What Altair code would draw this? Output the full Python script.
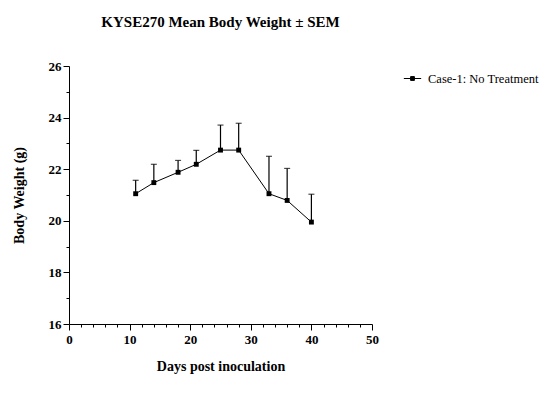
import altair as alt
import pandas as pd

days = [11, 14, 18, 21, 25, 28, 33, 36, 40]
mean_weight = [21.05, 21.48, 21.88, 22.19, 22.74, 22.74, 21.05, 20.79, 19.95]
sem = [0.52, 0.71, 0.46, 0.54, 0.97, 1.04, 1.45, 1.24, 1.08]
group = "Case-1: No Treatment"

df = pd.DataFrame({
    "day": days,
    "mean": mean_weight,
    "upper": [m + s for m, s in zip(mean_weight, sem)],
    "group": [group] * len(days),
})

FONT = "Liberation Serif"

x_scale = alt.Scale(domain=[0, 50], nice=False, zero=False)
y_scale = alt.Scale(domain=[16, 26], nice=False, zero=False)

x_axis = alt.Axis(
    values=list(range(0, 51, 2)),
    labelExpr="datum.value % 10 === 0 ? datum.label : ''",
    tickSize={"condition": {"test": "datum.value % 10 === 0", "value": 6}, "value": 3},
    grid=False, labelOverlap=False, labelFont=FONT, labelFontSize=13, labelFontWeight="bold",
    labelColor="black", title="Days post inoculation", titleFont=FONT, titleFontSize=14,
    titleFontWeight="bold", titleColor="black", titlePadding=13, domainColor="black",
    tickColor="black", labelPadding=3, labelFlush=False,
)
y_axis = alt.Axis(
    values=list(range(16, 27)),
    labelExpr="datum.value % 2 === 0 ? datum.label : ''",
    tickSize={"condition": {"test": "datum.value % 2 === 0", "value": 6}, "value": 3},
    grid=False, labelOverlap=False, labelFont=FONT, labelFontSize=13, labelFontWeight="bold",
    labelColor="black", title="Body Weight (g)", titleFont=FONT, titleFontSize=14,
    titleFontWeight="bold", titleColor="black", titlePadding=22, domainColor="black",
    tickColor="black", labelPadding=2, labelFlush=False,
)

X = alt.X("day:Q", scale=x_scale, axis=x_axis)
Y = alt.Y("mean:Q", scale=y_scale, axis=y_axis)
Yu = alt.Y("upper:Q", scale=y_scale, axis=y_axis)

base = alt.Chart(df)

line = base.mark_line(color="black", strokeWidth=1).encode(x=X, y=Y)

points = base.mark_point(filled=True, shape="square", size=24, opacity=1).encode(
    x=X, y=Y,
    color=alt.Color(
        "group:N",
        scale=alt.Scale(range=["black"]),
        legend=alt.Legend(
            title=None, orient="none", legendX=334, legendY=3,
            symbolType="M-1,0L1,0M-0.22,-0.22L0.22,-0.22L0.22,0.22L-0.22,0.22Z",
            symbolSize=300, symbolStrokeWidth=1, symbolStrokeColor="black",
            symbolFillColor="black", labelFont=FONT, labelFontSize=12.5,
            labelColor="black", labelOffset=6,
        ),
    ),
)

err = base.mark_rule(color="black", strokeWidth=1.2).encode(x=X, y=Y, y2="upper:Q")
caps = base.mark_tick(color="black", orient="horizontal", size=6, thickness=1.2).encode(x=X, y=Yu)

chart = alt.layer(err, caps, line, points).properties(
    width=303,
    height=258,
    autosize=alt.AutoSizeParams(type="none"),
    padding={"left": 69, "top": 66, "right": 176, "bottom": 81},
    title=alt.TitleParams(
        "KYSE270 Mean Body Weight ± SEM", font=FONT, fontSize=15, fontWeight="bold",
        color="black", anchor="middle", offset=30,
    ),
).configure_view(stroke=None).configure_axis(domainWidth=1, tickWidth=1)

chart.save("out.html", embed_options={"renderer": "svg", "actions": False})
